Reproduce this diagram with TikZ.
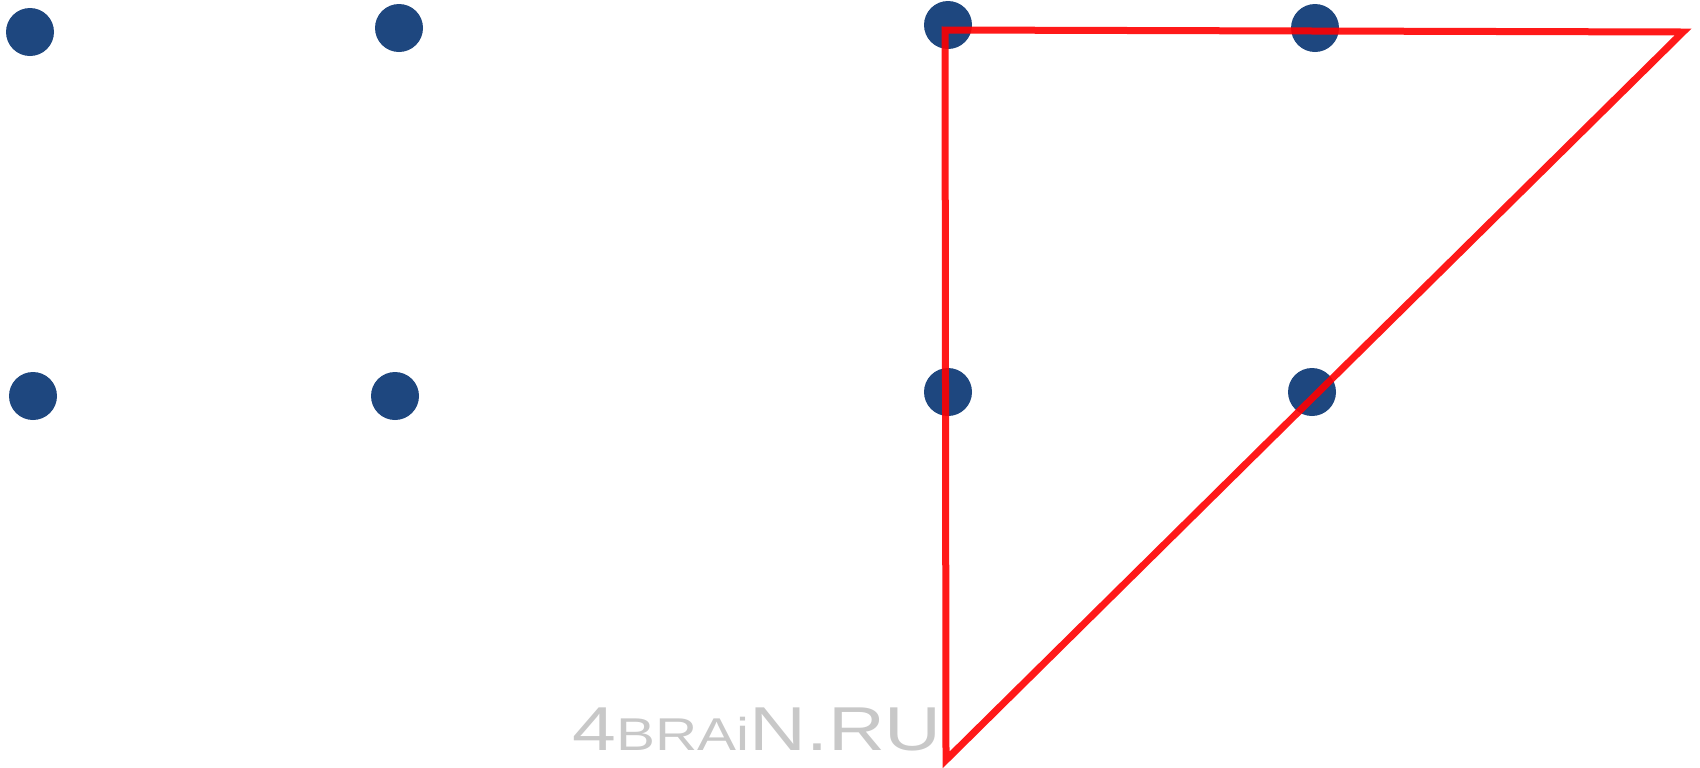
\documentclass[tikz,border=0pt]{standalone}
\usepackage{fontspec}
\setmainfont{Liberation Sans}
\definecolor{dotblue}{HTML}{1E477F}
\definecolor{wmgray}{HTML}{C8C8C8}
\begin{document}
\begin{tikzpicture}[x=0.5pt,y=-0.5pt,
  dot/.style={circle,fill=dotblue,minimum size=24pt,inner sep=0pt},
  redline/.style={draw=red,line width=3.5pt,draw opacity=0.9,line join=miter},
  wmark/.style={text=wmgray,inner sep=0pt,anchor=base west}]
\useasboundingbox (0,0) rectangle (1700,767);
\node[dot] (d1) at (30,32) {};
\node[dot] (d2) at (399,28) {};
\node[dot] (d3) at (948,25) {};
\node[dot] (d4) at (1315,28) {};
\node[dot] (d5) at (33,396) {};
\node[dot] (d6) at (395,396) {};
\node[dot] (d7) at (948,392) {};
\node[dot] (d8) at (1312,392) {};
\coordinate (tl) at (945,30);
\coordinate (tr) at (1683,32);
\coordinate (bt) at (946,760);
\draw[redline] (tl) -- (tr) -- (bt) -- cycle;
\node[wmark] (wm) at (572,750) {\scalebox{1.27}[1]{\fontsize{31pt}{31pt}\selectfont 4{\fontsize{23pt}{23pt}\selectfont BRAi}N.RU}};
\end{tikzpicture}
\end{document}
